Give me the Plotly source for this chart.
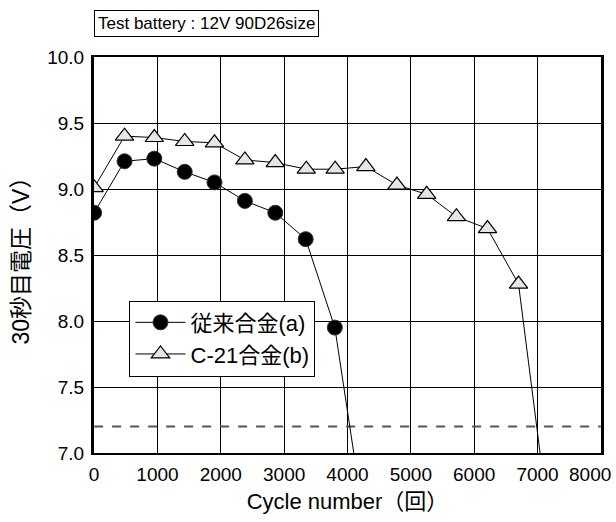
import plotly.graph_objects as go

cycles_a = [0, 480, 950, 1430, 1900, 2380, 2860, 3340, 3800, 4200]
volt_a = [8.82, 9.21, 9.23, 9.13, 9.05, 8.91, 8.82, 8.62, 7.95, 6.68]
cycles_b = [0, 480, 950, 1430, 1900, 2380, 2860, 3350, 3805, 4290, 4780, 5250, 5720, 6210, 6700, 7120]
volt_b = [9.01, 9.40, 9.39, 9.36, 9.35, 9.22, 9.20, 9.15, 9.15, 9.17, 9.03, 8.96, 8.79, 8.70, 8.28, 6.70]
limit_x = [0, 8000]
limit_y = [7.2, 7.2]
name_a = "従来合金(a)"
name_b = "C-21合金(b)"
x_ticks = [0, 1000, 2000, 3000, 4000, 5000, 6000, 7000, 8000]
x_ticktext = ["0", "1000", "2000", "3000", "4000", "5000", "6000", "7000", ""]
last_tick_label = "8000"
y_ticks = [7.0, 7.5, 8.0, 8.5, 9.0, 9.5, 10.0]

font = "Liberation Sans, Arial, Noto Sans CJK JP, sans-serif"

fig = go.Figure()
fig.add_trace(go.Scatter(x=limit_x, y=limit_y, mode="lines", showlegend=False,
                         line=dict(color="#555555", width=2, dash="dash"), cliponaxis=True))
fig.add_trace(go.Scatter(x=cycles_a, y=volt_a, mode="lines+markers", name=name_a,
                         line=dict(color="black", width=1),
                         marker=dict(symbol="circle", size=15, color="black",
                                     line=dict(color="#333", width=1)), cliponaxis=True))
fig.add_trace(go.Scatter(x=cycles_b, y=volt_b, mode="lines+markers", name=name_b,
                         line=dict(color="black", width=1),
                         marker=dict(symbol="triangle-up", size=16, color="#e6e6e6",
                                     line=dict(color="black", width=1.2)), cliponaxis=True))

fig.update_layout(
    width=616, height=522,
    margin=dict(l=94, r=13, t=57, b=69),
    paper_bgcolor="white", plot_bgcolor="white",
    font=dict(family=font, color="black", size=19),
    legend=dict(x=0.07, y=0.385, xanchor="left", yanchor="top",
                bordercolor="black", borderwidth=1, bgcolor="white",
                font=dict(size=22, family=font), tracegroupgap=0, itemwidth=50),
    showlegend=True,
)
fig.update_xaxes(range=[-2, 8002], tickvals=x_ticks, ticktext=x_ticktext,
                 showgrid=True, gridcolor="black", gridwidth=1,
                 showline=True, linecolor="black", linewidth=2, mirror=True,
                 ticks="outside", ticklen=3, tickcolor="white", zeroline=False, tickfont=dict(size=19),
                 title=dict(text="Cycle number（回）", font=dict(size=22), standoff=10))
fig.update_yaxes(range=[7.0, 10.0], tickvals=y_ticks,
                 tickformat=".1f",
                 showgrid=True, gridcolor="black", gridwidth=1,
                 showline=True, linecolor="black", linewidth=3, mirror=True,
                 ticks="outside", ticklen=3, tickcolor="white", zeroline=False, tickfont=dict(size=19),
                 title=dict(text="30秒目電圧（V）", font=dict(size=23), standoff=12))
fig.add_annotation(xref="x", yref="paper", x=8000, y=0, yshift=-9, xshift=-11,
                   xanchor="center", yanchor="top", text=last_tick_label, showarrow=False,
                   font=dict(size=19, family=font))
fig.add_annotation(xref="paper", yref="paper", x=0.0, y=1.05, xanchor="left", yanchor="bottom",
                   text="Test battery : 12V 90D26size", showarrow=False,
                   font=dict(size=17, family=font), bordercolor="black", borderwidth=1,
                   borderpad=3, bgcolor="white")
fig.write_html("out.html")
